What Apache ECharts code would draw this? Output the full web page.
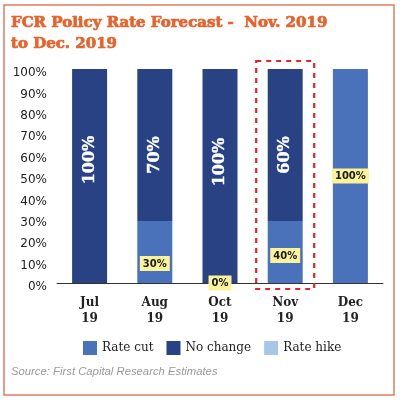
<!DOCTYPE html>
<html><head><meta charset="utf-8">
<script src="https://cdn.jsdelivr.net/npm/echarts@6/dist/echarts.min.js"></script>
<style>html,body{margin:0;padding:0;background:#fff}#c{width:400px;height:402px}</style>
</head><body><div id="c"></div>
<script>
const categories = ['Jul\n19', 'Aug\n19', 'Oct\n19', 'Nov\n19', 'Dec\n19'];
const rateCut = [0, 29, 0, 29, 100];
const noChange = [100, 71, 100, 71, 0];
const rateHike = [0, 0, 0, 0, 0];
const rateCutLabels = ['', '30%', '0%', '40%', '100%'];
const noChangeLabels = ['100%', '70%', '100%', '60%', ''];
const seriesNames = ['Rate cut', 'No change', 'Rate hike'];
const yTicks = [0, 10, 20, 30, 40, 50, 60, 70, 80, 90, 100];
const highlightCategory = 3;

const chart = echarts.init(document.getElementById('c'));
const serifFont = '"DejaVu Serif", serif';

const cutLabelStyle = [
  null,
  { position: 'insideBottom', distance: 12 },
  { position: 'inside' },
  { position: 'insideBottom', distance: 20 },
  { position: 'inside' }
];
const holdOffsets = [[16, 0], [-10, 0], [14, 0], [-10, 0], [0, 0]];

chart.setOption({
  animation: false,
  title: [{
    text: 'FCR Policy Rate Forecast -  Nov. 2019\nto Dec. 2019',
    left: 11, top: 13, padding: 0,
    textStyle: { color: '#e8622c', fontFamily: serifFont, fontWeight: 'bold', fontSize: 15, lineHeight: 21,
      textBorderColor: '#e8622c', textBorderWidth: 0.7 }
  }, {
    text: 'Source: First Capital Research Estimates',
    left: 11, top: 366, padding: 0,
    textStyle: { color: '#9a9a9a', fontFamily: '"Liberation Sans Narrow", "Liberation Sans", sans-serif', fontStyle: 'italic', fontWeight: 'normal', fontSize: 11.3 }
  }],
  legend: {
    left: 83, top: 341, padding: 0,
    itemWidth: 14, itemHeight: 14, itemGap: 13,
    icon: 'rect',
    data: seriesNames,
    textStyle: { fontFamily: serifFont, fontSize: 12, color: '#222' }
  },
  grid: { left: 57, right: 17, top: 69, bottom: 119, containLabel: false },
  xAxis: {
    type: 'category', data: categories,
    axisLine: { lineStyle: { color: '#333', width: 1 } },
    axisTick: { show: false },
    axisLabel: { fontFamily: serifFont, fontWeight: 'bold', fontSize: 12, color: '#222', lineHeight: 16, margin: 12 }
  },
  yAxis: {
    type: 'value', min: 0, max: 100, interval: 10,
    axisLine: { show: false }, axisTick: { show: false }, splitLine: { show: false },
    axisLabel: { formatter: v => yTicks.includes(v) ? v + '%' : '', fontFamily: '"DejaVu Sans", sans-serif', fontSize: 12, color: '#222', margin: 10, verticalAlign: 'top', lineHeight: 8 }
  },
  series: [{
    name: seriesNames[0], type: 'bar', stack: 's', barWidth: 35,
    itemStyle: { color: '#4a72bb' },
    data: rateCut.map((v, i) => ({
      value: v,
      label: cutLabelStyle[i] ? Object.assign({
        show: true,
        formatter: () => rateCutLabels[i],
        backgroundColor: '#fbf39a', color: '#1a1a1a',
        fontFamily: '"DejaVu Sans", sans-serif', fontWeight: 'bold', fontSize: 10,
        padding: [3, 3, 2, 3]
      }, cutLabelStyle[i]) : { show: false }
    }))
  }, {
    name: seriesNames[1], type: 'bar', stack: 's', barWidth: 35,
    itemStyle: { color: '#284284' },
    data: noChange.map((v, i) => ({
      value: v,
      label: noChangeLabels[i] ? {
        show: true, position: 'inside', rotate: 90, offset: holdOffsets[i],
        formatter: () => noChangeLabels[i],
        color: '#fff', fontFamily: serifFont, fontWeight: 'bold', fontSize: 16,
        textBorderColor: '#fff', textBorderWidth: 0.4
      } : { show: false }
    }))
  }, {
    name: seriesNames[2], type: 'bar', stack: 's', barWidth: 35,
    itemStyle: { color: '#a9c5e8' },
    data: rateHike
  }]
});

function drawGraphics() {
  const c = chart.convertToPixel({ xAxisIndex: 0 }, categories[highlightCategory]);
  const top = chart.convertToPixel({ yAxisIndex: 0 }, 100);
  const bottom = chart.convertToPixel({ yAxisIndex: 0 }, 0);
  chart.setOption({
    graphic: [{
      type: 'rect', shape: { x: 4, y: 5, width: 390, height: 390 },
      style: { fill: null, stroke: '#e27b62', lineWidth: 1.5 }, silent: true
    }, {
      type: 'rect', shape: { x: c - 29, y: top - 8, width: 58, height: bottom - top + 14 },
      style: { fill: null, stroke: '#e3242b', lineWidth: 2.2, lineDash: [5, 5] }, silent: true, z: 100
    }]
  });
}
drawGraphics();
</script>
</body></html>
